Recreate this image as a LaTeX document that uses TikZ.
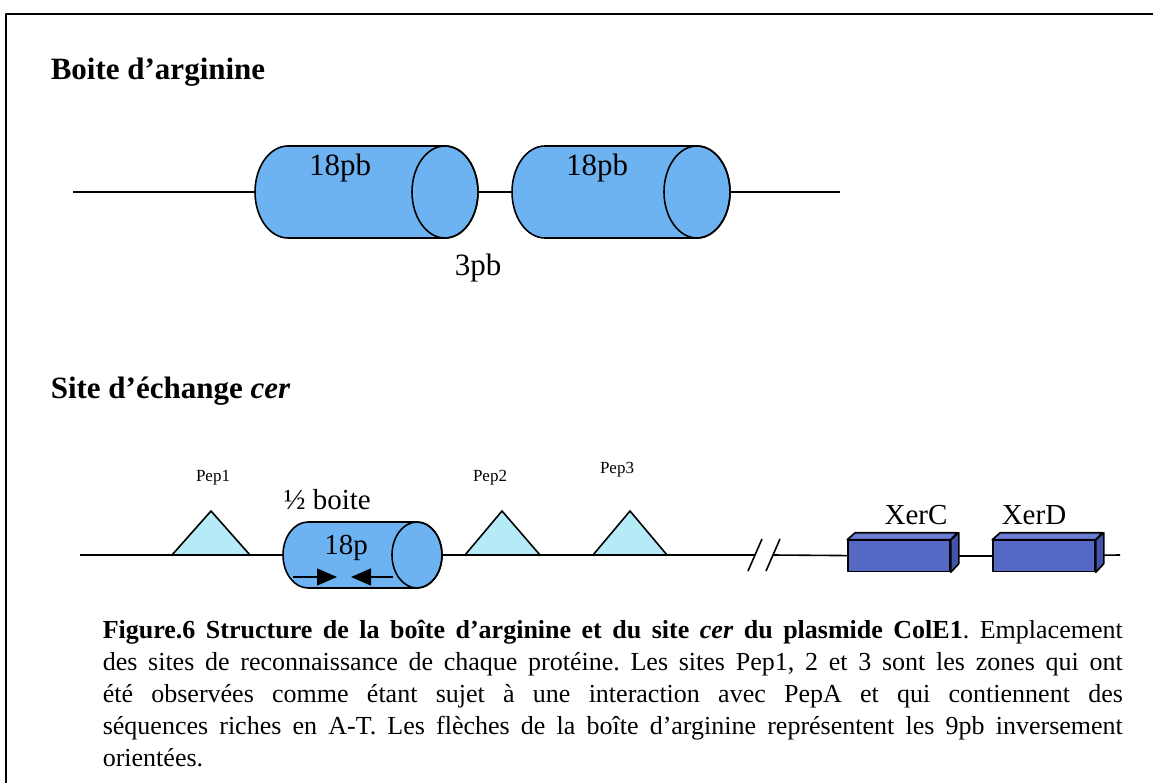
\documentclass[tikz,border=0pt]{standalone}
\usepackage{fontspec}
\setmainfont{Liberation Serif}
\usetikzlibrary{arrows.meta}
\definecolor{cylBlue}{HTML}{6DB3F2}
\definecolor{pepCyan}{HTML}{B5EAF7}
\definecolor{xerBlue}{HTML}{5568C4}
\definecolor{xerTop}{HTML}{6C7ED6}
\definecolor{xerSide}{HTML}{4254AC}

\begin{document}
\begin{tikzpicture}[x=1pt, y=-1pt, line width=1.6pt, line join=round]
  \tikzstyle{cyl}=[draw, fill=cylBlue]
  \tikzstyle{slot}=[inner sep=0pt]
  \tikzstyle{big}=[font=\fontsize{31}{33}\selectfont]
  \tikzstyle{mid}=[font=\fontsize{29}{31}\selectfont]
  \tikzstyle{small}=[font=\fontsize{17}{19}\selectfont]
  \tikzstyle{head}=[font=\fontsize{31}{34}\selectfont\bfseries, anchor=base west, inner sep=0pt]
  \tikzstyle{pep}=[draw, fill=pepCyan]
  \tikzstyle{xer}=[draw, fill=xerBlue, minimum width=102pt, minimum height=31pt, inner sep=0pt]
  \tikzstyle{tip}=[-{Triangle[length=20pt,width=17pt]}, line width=1.4pt]

  \useasboundingbox (0,0) rectangle (1153,783);
  \draw[line width=1.3pt] (6,783) -- (6,14) -- (1153,14);

  % boite d'arginine
  \node[head] (h1) at (50,80) {Boite d’arginine};
  \coordinate (a0) at (73,192);
  \coordinate (a1) at (840,192);
  \node[slot, minimum width=223pt, minimum height=92pt] (c1) at (366.5,192) {};
  \node[slot, minimum width=218pt, minimum height=92pt] (c2) at (621,192) {};
  \draw (a0) -- (c1);
  \draw (c1) -- (c2);
  \draw (c2) -- (a1);
  \filldraw[cyl] (288,146) -- (445,146) arc[start angle=-90, end angle=90, x radius=33, y radius=46]
    -- (288,238) arc[start angle=90, end angle=270, x radius=33, y radius=46] -- cycle;
  \draw (445,192) ellipse[x radius=33, y radius=46];
  \filldraw[cyl] (545,146) -- (697,146) arc[start angle=-90, end angle=90, x radius=33, y radius=46]
    -- (545,238) arc[start angle=90, end angle=270, x radius=33, y radius=46] -- cycle;
  \draw (697,192) ellipse[x radius=33, y radius=46];
  \node[big] (t1) at (340,168) {18pb};
  \node[big] (t2) at (597,168) {18pb};
  \node[big] (t3) at (478,268) {3pb};

  % site cer
  \node[head] (h2) at (50,398) {Site d’échange \textit{cer}};
  \coordinate (b0) at (80,555);
  \coordinate (b1) at (1120,555);
  \coordinate (k1) at (755,555);
  \coordinate (k2) at (773,555);
  \node[slot, minimum width=159pt, minimum height=66pt] (c3) at (362.5,555) {};
  \node[xer] (xc) at (899,556) {};
  \node[xer] (xd) at (1044,556) {};
  \draw (b0) -- (c3);
  \draw (c3) -- (k1);
  \draw (k2) -- (xc);
  \draw (xc) -- (xd);
  \draw (xd) -- (b1);
  \draw (k1) ++(-7,16) -- ++(14,-32);
  \draw (k2) ++(-7,16) -- ++(14,-32);
  \filldraw[cyl] (308,522) -- (417,522) arc[start angle=-90, end angle=90, x radius=25, y radius=33]
    -- (308,588) arc[start angle=90, end angle=270, x radius=25, y radius=33] -- cycle;
  \draw (417,555) ellipse[x radius=25, y radius=33];

  \draw[pep] (172,555) -- (211,511) -- (250,555) -- cycle;
  \draw[pep] (465,555) -- (502,511) -- (540,555) -- cycle;
  \draw[pep] (593,555) -- (630,511) -- (667,555) -- cycle;
  \node[small] (p1) at (213,478) {Pep1};
  \node[small] (p2) at (490,478) {Pep2};
  \node[small] (p3) at (617,470) {Pep3};

  \node[mid, anchor=base west, inner sep=0pt] (hb) at (283,509) {½ boite};
  \node[mid] (t4) at (346,548) {18p};
  \coordinate (r0) at (293,577);
  \coordinate (r1) at (337,577);
  \coordinate (l0) at (393,577);
  \coordinate (l1) at (351,577);
  \draw[tip] (r0) -- (r1);
  \draw[tip] (l0) -- (l1);

  \filldraw[fill=xerTop] (xc.north west) -- ++(8,-7) -- ++(102,0) -- (xc.north east) -- cycle;
  \filldraw[fill=xerSide] (xc.north east) -- ++(8,-7) -- ++(0,31) -- (xc.south east) -- cycle;
  \filldraw[fill=xerTop] (xd.north west) -- ++(8,-7) -- ++(102,0) -- (xd.north east) -- cycle;
  \filldraw[fill=xerSide] (xd.north east) -- ++(8,-7) -- ++(0,31) -- (xd.south east) -- cycle;
  \node[mid] (x1) at (916,515) {XerC};
  \node[mid] (x2) at (1034,515) {XerD};

  % legende
  \node[anchor=north west, inner sep=0pt, text width=1020pt, align=justify,
        font=\fontsize{26}{32}\selectfont] (cap) at (102,619)
  {\frenchspacing\hyphenpenalty=10000 \textbf{Figure.6 Structure de la boîte d’arginine et du site \textit{cer} du plasmide ColE1}. Emplacement\linebreak
   des sites de reconnaissance de chaque protéine. Les sites Pep1, 2 et 3 sont les zones qui ont\linebreak
   été observées comme étant sujet à une interaction avec PepA et qui contiennent des\linebreak
   séquences riches en A-T. Les flèches de la boîte d’arginine représentent les 9pb inversement\linebreak
   orientées.};
\end{tikzpicture}
\end{document}
